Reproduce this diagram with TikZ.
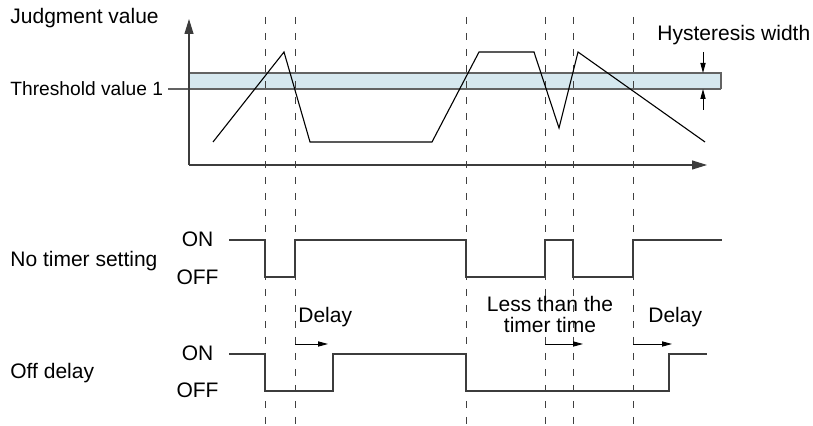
\documentclass[tikz,border=0pt]{standalone}
\usepackage{fontspec}
\setmainfont{Liberation Sans}
\usepackage{tikz}
\usetikzlibrary{arrows.meta}
\definecolor{bandblue}{HTML}{D6E8EF}
\definecolor{linegray}{HTML}{3C3C3C}

\begin{document}
\begin{tikzpicture}[
    x=0.5pt, y=-0.5pt,
    every node/.style={font=\fontsize{10.5}{10.5}\selectfont, inner sep=0pt},
    signal/.style={draw=linegray, line width=0.55pt},
    marker/.style={draw=black!75, line width=0.5pt, dash pattern=on 3.5pt off 4.5pt},
    axis/.style={draw=linegray, line width=0.55pt, -{Triangle[length=7.5pt,width=4.5pt]}},
    span/.style={draw=black, line width=0.45pt, -{Triangle[length=5pt,width=2.6pt]}}
]
\useasboundingbox (0,0) rectangle (813,426);

% hysteresis band
\fill[bandblue] (189,73) rectangle (721,89);
\draw[draw=linegray!80, line width=0.6pt] (189,73) -- (721,73) -- (721,89);
\draw[draw=linegray!80, line width=0.8pt] (168,89) -- (721,89);

% time markers
\foreach \t in {265,295,466,545,573,633}
  \draw[marker] (\t,17) -- (\t,426);

% axes
\draw[axis] (189,165) -- (189,19);
\draw[axis] (189,165) -- (707,165);

% judgment value
\draw[signal, draw=black] (213,142) -- (284,52) -- (310,142) -- (432,142) -- (479,52)
  -- (534,52) -- (559,128) -- (578,52) -- (705,142);

% hysteresis width
\draw[span] (703,52) -- (703,73);
\draw[span] (703,110) -- (703,89);

% outputs
\draw[signal] (229,240) -| (265,277) -| (295,240) -| (466,277) -| (545,240)
  -| (573,277) -| (633,240) -- (722,240);
\draw[signal] (229,354) -| (265,391) -| (333,354) -| (466,391) -| (669,354) -- (707,354);

% delay arrows
\draw[span] (295,344) -- (328,344);
\draw[span] (545,344) -- (583,344);
\draw[span] (633,344) -- (672,344);

% labels
\node[anchor=base west] (judgment) at (10,24) {Judgment value};
\node[anchor=base west, font=\fontsize{9.6}{9.6}\selectfont] (threshold) at (10,96) {Threshold value 1};
\node[anchor=base west] (hysteresis) at (657,41) {Hysteresis width};
\node[anchor=base west] (notimer) at (10,267) {No timer setting};
\node[anchor=base west] (offdelay) at (10,379) {Off delay};
\node[anchor=base] (on1) at (197.5,247) {ON};
\node[anchor=base] (off1) at (197.5,285) {OFF};
\node[anchor=base] (on2) at (197.5,361) {ON};
\node[anchor=base] (off2) at (197.5,398) {OFF};
\node[anchor=base west] (delay1) at (298,323) {Delay};
\node[align=center] (lessthan) at (550,314) {Less than the\\timer time};
\node[anchor=base west] (delay2) at (648,323) {Delay};
\end{tikzpicture}
\end{document}
